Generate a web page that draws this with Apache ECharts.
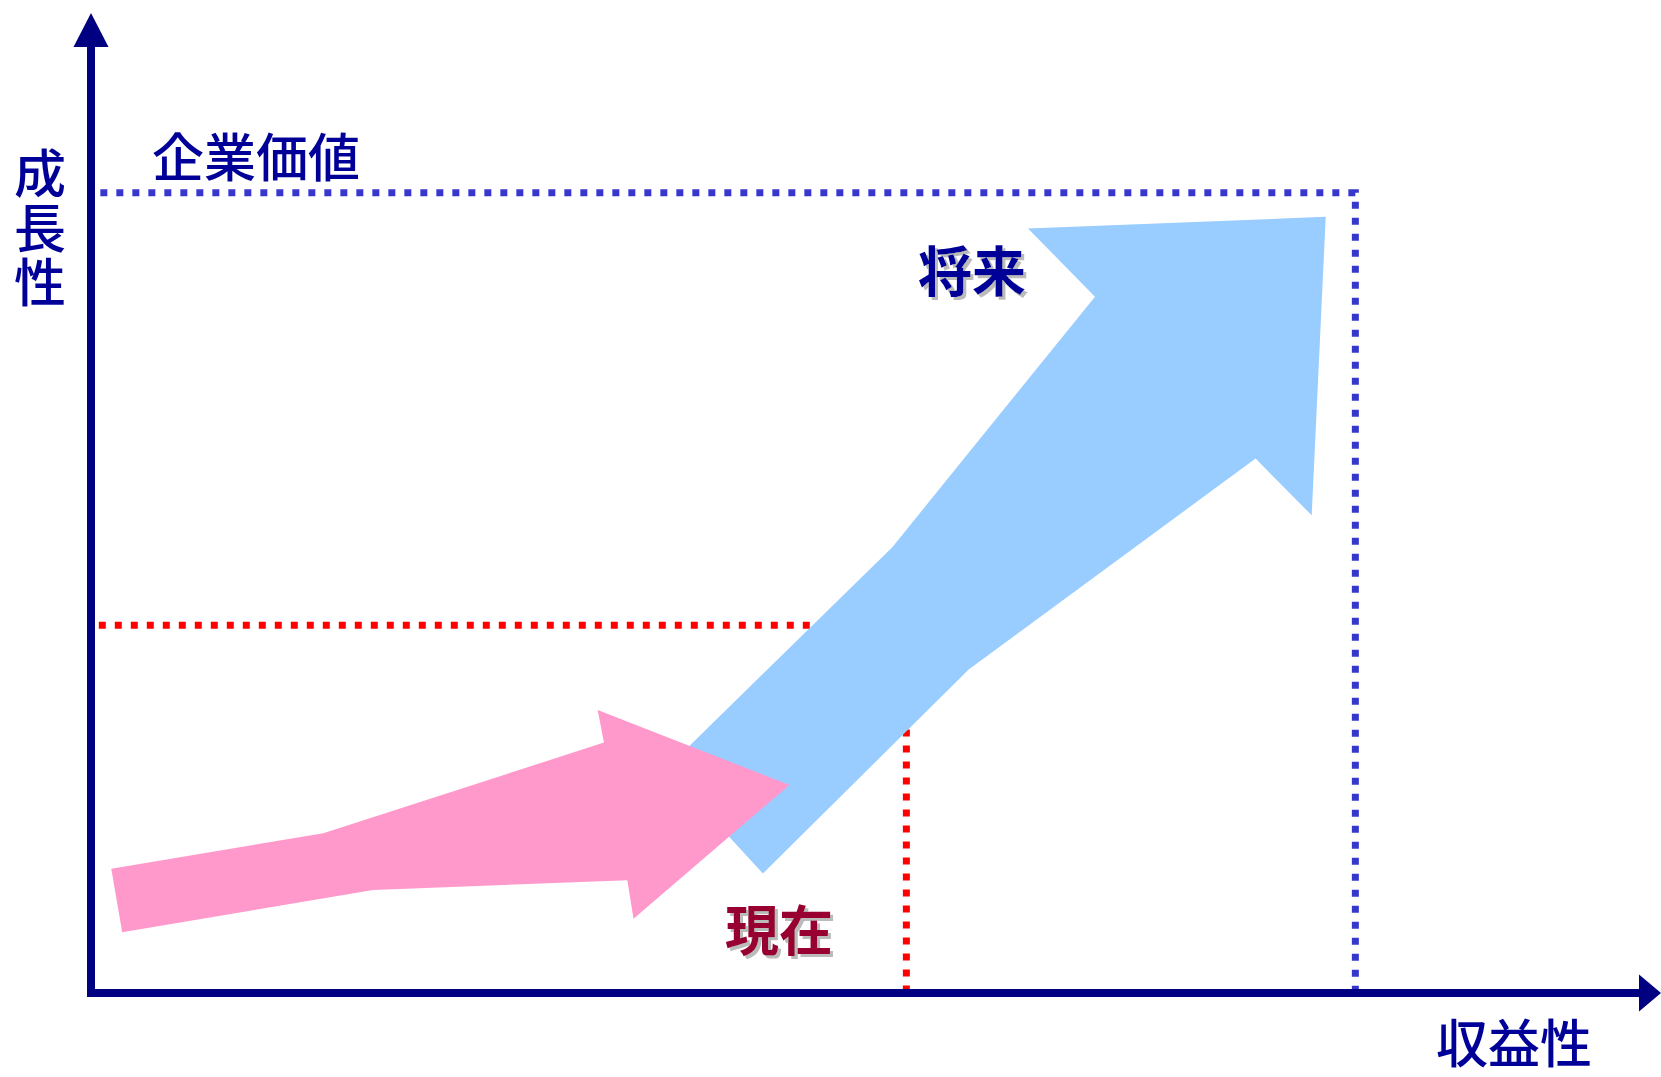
<!DOCTYPE html>
<html>
<head>
<meta charset="utf-8">
<script src="https://cdn.jsdelivr.net/npm/echarts@6/dist/echarts.min.js"></script>
<style>
html,body{margin:0;padding:0;background:#fff;}
#chart{width:1661px;height:1077px;}
</style>
</head>
<body>
<div id="chart"></div>
<script>
// Conceptual axes: 収益性 (x) and 成長性 (y), both on a 0-100 scale
const axisTitleX = '収益性';
const axisTitleYChars = ['成', '長', '性'];
const annotations = { value: '企業価値', future: '将来', current: '現在' };

// Light blue arrow (将来) outline vertices
const blueArrowX = [36.9, 51.4, 64.4, 60.1, 79.2, 78.3, 74.7, 56.3, 43.1];
const blueArrowY = [23.3, 46.3, 72.3, 79.4, 80.6, 49.6, 55.5, 33.6, 12.4];

// Pink arrow (現在) outline vertices
const pinkArrowX = [1.3, 14.9, 32.9, 32.5, 44.8, 34.8, 34.4, 18.1, 2.0];
const pinkArrowY = [12.9, 16.6, 26.0, 29.4, 21.6, 7.7, 11.7, 10.7, 6.3];

// Dotted guide lines
const valueFrameX = [0.6, 81.1, 81.1];
const valueFrameY = [83.1, 83.1, 0];
const currentFrameX = [0.5, 52.3, 52.3];
const currentFrameY = [38.2, 38.2, 0];

const zip = (xs, ys) => xs.map((x, i) => [x, ys[i]]);

function polygonSeries(xs, ys, color, z) {
  const pts = zip(xs, ys);
  return {
    type: 'custom',
    coordinateSystem: 'cartesian2d',
    z: z,
    silent: true,
    data: pts,
    encode: { x: 0, y: 1 },
    renderItem: function (params, api) {
      if (params.dataIndex !== 0) return null;
      return {
        type: 'polygon',
        shape: { points: pts.map(p => api.coord(p)) },
        style: { fill: color, stroke: null }
      };
    }
  };
}

function dottedSeries(xs, ys, color, z) {
  return {
    type: 'line',
    z: z,
    silent: true,
    showSymbol: false,
    symbol: 'none',
    data: zip(xs, ys),
    lineStyle: { color: color, width: 7, type: [7, 9], cap: 'butt', join: 'miter' }
  };
}

const chart = echarts.init(document.getElementById('chart'), null, { renderer: 'svg' });
const font = "'Noto Sans CJK JP', 'Noto Sans CJK SC', sans-serif";
const axisCommon = {
  type: 'value',
  min: 0,
  max: 100,
  z: 10,
  axisTick: { show: false },
  axisLabel: { show: false },
  splitLine: { show: false },
  axisLine: {
    show: true,
    symbol: ['none', 'triangle'],
    lineStyle: { color: '#000080', width: 8, cap: 'square' }
  }
};

const plainText = (text, x, y) => ({
  type: 'text', z: 20, x: x, y: y,
  style: { text: text, font: '500 52px ' + font, lineHeight: 52, fill: '#000099', align: 'center', verticalAlign: 'middle' }
});
const shadowText = (text, x, y, color) => ({
  type: 'text', z: 20, x: x, y: y,
  style: { text: text, font: 'bold 54px ' + font, lineHeight: 54, fill: color, align: 'center', verticalAlign: 'middle',
           textShadowColor: '#BBBBBB', textShadowOffsetX: 3, textShadowOffsetY: 3, textShadowBlur: 0.1 }
});

const yTitleY = [170, 225, 279];

chart.setOption({
  animation: false,
  backgroundColor: '#ffffff',
  grid: { left: 91, right: 11, top: 30, bottom: 84, containLabel: false },
  xAxis: Object.assign({}, axisCommon, {
    axisLine: Object.assign({}, axisCommon.axisLine, { symbolSize: [37, 22] })
  }),
  yAxis: Object.assign({}, axisCommon, {
    axisLine: Object.assign({}, axisCommon.axisLine, { symbolSize: [35, 34] })
  }),
  series: [
    dottedSeries(valueFrameX, valueFrameY, '#3737CC', 2),
    dottedSeries(currentFrameX, currentFrameY, '#FF0000', 2),
    polygonSeries(blueArrowX, blueArrowY, '#99CCFF', 3),
    polygonSeries(pinkArrowX, pinkArrowY, '#FF99CC', 4)
  ],
  graphic: [
    plainText(annotations.value, 256, 154),
    plainText(axisTitleYChars[0], 40, yTitleY[0]),
    plainText(axisTitleYChars[1], 40, yTitleY[1]),
    plainText(axisTitleYChars[2], 40, yTitleY[2]),
    plainText(axisTitleX, 1514, 1040),
    shadowText(annotations.future, 972, 268, '#000099'),
    shadowText(annotations.current, 779, 927, '#990033')
  ]
});
</script>
</body>
</html>
